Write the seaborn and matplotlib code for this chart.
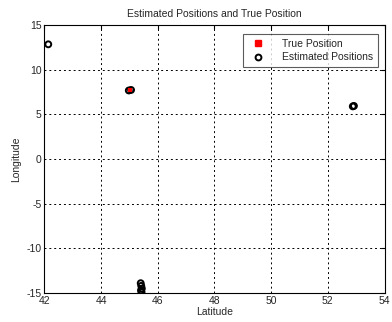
import matplotlib
matplotlib.use("Agg")
import matplotlib.pyplot as plt
import seaborn as sns
import pandas as pd

sns.set_style("white")
plt.rcParams['font.family'] = ['Liberation Sans', 'DejaVu Sans']
plt.rcParams['axes.unicode_minus'] = False

true_lat = [45.02]
true_lon = [7.7]
est_lat = [42.14, 44.98, 45.06, 52.88, 52.92, 45.4, 45.42, 45.44, 45.41, 45.43]
est_lon = [12.85, 7.68, 7.74, 5.9, 5.95, -13.9, -14.2, -14.5, -14.7, -14.9]

xticks = [42, 44, 46, 48, 50, 52, 54]
yticks = [-15, -10, -5, 0, 5, 10, 15]

fig = plt.figure(figsize=(3.92, 3.22), dpi=100)
ax = fig.add_axes([0.113, 0.09, 0.868, 0.832])

est_df = pd.DataFrame({"lat": est_lat, "lon": est_lon})
true_df = pd.DataFrame({"lat": true_lat, "lon": true_lon})

sns.scatterplot(data=est_df, x="lat", y="lon", ax=ax, marker="o", s=18,
                facecolors="none", edgecolor="black", linewidth=1.4, zorder=3)
sns.scatterplot(data=true_df, x="lat", y="lon", ax=ax, marker="s", s=8,
                color="red", edgecolor="red", linewidth=0, zorder=4)

from matplotlib.lines import Line2D
handles = [Line2D([], [], marker="s", color="red", linestyle="none", markersize=5),
           Line2D([], [], marker="o", markerfacecolor="none", markeredgecolor="black",
                  markeredgewidth=1.4, linestyle="none", markersize=4.2)]
leg = ax.legend(handles, ["True Position", "Estimated Positions"], loc="upper right",
                fontsize=7.5, frameon=True, fancybox=False, edgecolor="#333333",
                borderpad=0.45, handletextpad=1.3, labelspacing=0.3,
                bbox_to_anchor=(0.995, 0.985))
leg.get_frame().set_linewidth(0.8)

ax.set_xlim(42, 54)
ax.set_ylim(-15, 15)
ax.set_xticks(xticks)
ax.set_yticks(yticks)
ax.grid(True, linestyle=(0, (2, 3)), color="black", linewidth=0.7)
for s in ax.spines.values():
    s.set_color("black")
    s.set_linewidth(0.8)
ax.tick_params(axis="both", labelsize=7.5, direction="in", length=3, color="black",
               pad=2, top=True, right=True)
ax.set_xlabel("Latitude", fontsize=7.5, labelpad=1)
ax.set_ylabel("Longitude", fontsize=7.5, labelpad=4)
ax.set_title("Estimated Positions and True Position", fontsize=7.5, pad=6)

fig.savefig("out.png", dpi=100)
